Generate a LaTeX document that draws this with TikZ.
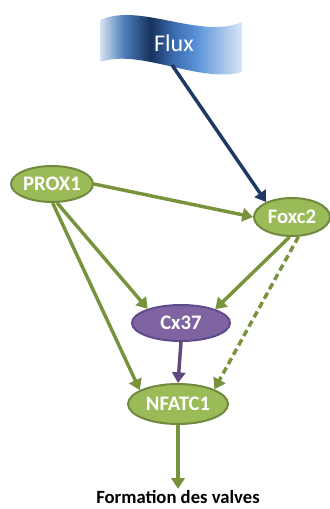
\documentclass[tikz,border=0pt]{standalone}
\usepackage{fontspec}
\setmainfont{Carlito}
\usepackage{tikz}
\usetikzlibrary{arrows.meta,shapes.geometric}
\definecolor{geneFill}{HTML}{9BBB59}
\definecolor{geneLine}{HTML}{71893F}
\definecolor{geneArrow}{HTML}{77933C}
\definecolor{cxFill}{HTML}{8064A2}
\definecolor{cxLine}{HTML}{5F4B8B}
\definecolor{cxArrow}{HTML}{604A7B}
\definecolor{fluxNavy}{HTML}{1F3864}
\definecolor{flagLight}{HTML}{DDE8F6}
\definecolor{flagBlue}{HTML}{4F81BD}
\definecolor{flagDark}{HTML}{17325C}
\definecolor{flagMid}{HTML}{3A6AAE}
\definecolor{flagSky}{HTML}{5B94DA}

\begin{document}
\begin{tikzpicture}[x=0.75pt,y=-0.75pt,
  gene/.style={ellipse,draw=geneLine,fill=geneFill,line width=1.5pt,text=white,
    font=\fontsize{15.5}{17}\selectfont\bfseries,inner sep=0pt},
  act/.style={-{Triangle[length=8pt,width=10pt]},line width=2.6pt,draw=geneArrow}]
\useasboundingbox (0,0) rectangle (329,509);
% flux banner
\begin{scope}
  \clip (100,20) .. controls (140,2) and (200,40) .. (242,22)
    -- (242,72) .. controls (200,84) and (140,48) .. (100,62) -- cycle;
  \shade[left color=flagLight,right color=flagBlue] (99,0) rectangle (123.5,90);
  \shade[left color=flagBlue,right color=flagDark] (123,0) rectangle (150.5,90);
  \shade[left color=flagDark,right color=flagMid] (150,0) rectangle (173.5,90);
  \shade[left color=flagMid,right color=flagSky] (173,0) rectangle (197.5,90);
  \shade[left color=flagSky,right color=flagLight] (197,0) rectangle (243,90);
\end{scope}
\node (flux) at (174,43) {\fontsize{18}{20}\selectfont\color{white}Flux};
\coordinate (fluxtail) at (172,65);

\node[gene,minimum width=61.5pt,minimum height=27pt] (prox) at (52,184) {PROX1};
\node[gene,minimum width=57pt,minimum height=28.5pt] (foxc) at (292,217) {Foxc2};
\node[gene,fill=cxFill,draw=cxLine,minimum width=73.5pt,minimum height=27pt] (cx) at (181,323) {Cx37};
\node[gene,minimum width=75pt,minimum height=30pt] (nfatc) at (178,404) {NFATC1};
\node[font=\fontsize{14}{16}\selectfont\bfseries,inner sep=1pt] (valves) at (178,497) {Formation des valves};

\draw[act,draw=fluxNavy] (fluxtail) -- (foxc.150);
\draw[act] (prox.east) -- (foxc.west);
\draw[act] (prox.-75) -- (cx.157);
\draw[act] (prox.-88) -- (nfatc.160);
\draw[act] (foxc.-97) -- (cx.22);
\draw[act,dash pattern=on 5pt off 3pt] (foxc.-72) -- (nfatc.22);
\draw[act,draw=cxArrow] (cx.south) -- (nfatc.north);
\draw[act] (nfatc.south) -- (valves.north);
\end{tikzpicture}
\end{document}
